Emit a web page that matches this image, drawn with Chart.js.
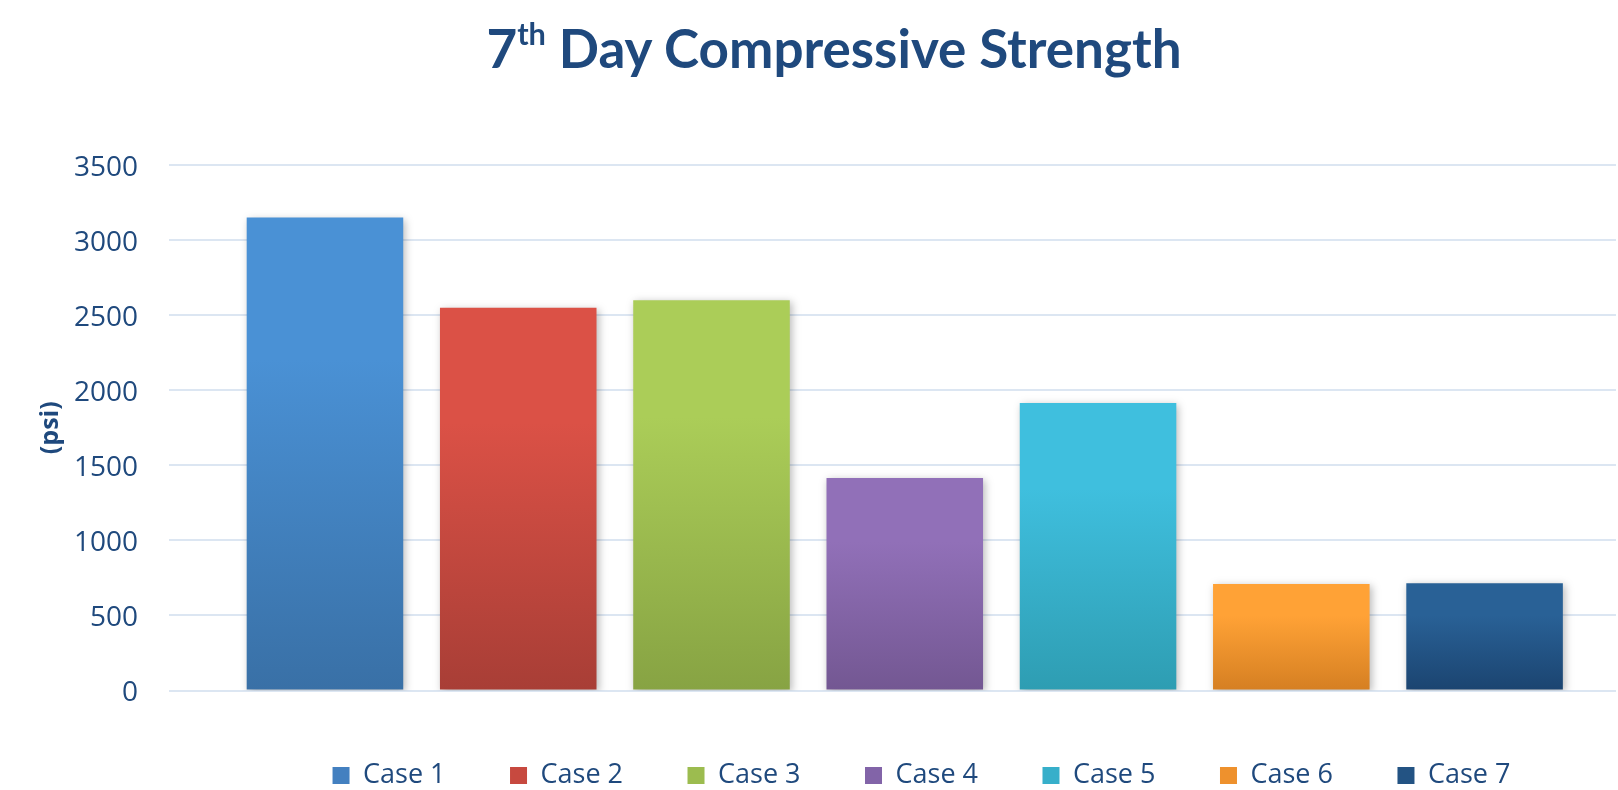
<!DOCTYPE html>
<html>
<head>
<meta charset="utf-8">
<script src="https://cdn.jsdelivr.net/npm/chart.js@4/dist/chart.umd.min.js"></script>
<style>
  html, body { margin: 0; padding: 0; background: #ffffff; }
  #wrap { position: relative; width: 1618px; height: 790px; }
  #chart { position: absolute; left: 0; top: 0; }
  #title {
    position: absolute; left: 834px; top: 18px; transform: translateX(-50%);
    font-family: Lato, "Open Sans", sans-serif; font-weight: 700; font-size: 53px;
    color: #1F497D; white-space: nowrap; line-height: 60px;
  }
  #title sup { font-size: 58%; line-height: 0; position: relative; top: -4px; }
</style>
</head>
<body>
<div id="wrap">
  <canvas id="chart" width="1618" height="790"></canvas>
  <div id="title">7<sup>th</sup> Day Compressive Strength</div>
</div>
<script>
// Categories and measured compressive strength (psi)
const cases = ['Case 1', 'Case 2', 'Case 3', 'Case 4', 'Case 5', 'Case 6', 'Case 7'];
const strength = [3150, 2550, 2600, 1415, 1915, 710, 715];
const yTickValues = [0, 500, 1000, 1500, 2000, 2500, 3000, 3500];

// Per-case gradient colours (top, bottom) and a flat legend swatch colour
const topColors = ['#4A91D5', '#DB5146', '#ABCD58', '#9170B8', '#3FBFDE', '#FFA236', '#296196'];
const bottomColors = ['#3970A6', '#A83E36', '#87A343', '#735792', '#2E9DB2', '#D57F22', '#1B4470'];
const swatchColors = ['#4380C0', '#C7493F', '#9CBC4F', '#8264A8', '#37AFCA', '#EE912D', '#235383'];

const textBlue = '#1F497D';

function barGradient(top, bottom) {
  return (ctx) => {
    const chart = ctx.chart;
    if (!chart.chartArea || ctx.type !== 'data' || !ctx.parsed) return top;
    const y = chart.scales.y;
    const yTop = y.getPixelForValue(ctx.parsed.y);
    const yBase = y.getPixelForValue(0);
    const g = chart.ctx.createLinearGradient(0, yTop, 0, yBase);
    g.addColorStop(0, top);
    g.addColorStop(0.3, top);
    g.addColorStop(1, bottom);
    return g;
  };
}

const datasets = cases.map((name, i) => ({
  label: name,
  data: [{ x: i, y: strength[i] }],
  backgroundColor: barGradient(topColors[i], bottomColors[i]),
  borderWidth: 0,
  grouped: false,
  categoryPercentage: 1,
  barPercentage: 0.81
}));

// Soft drop shadow behind the bars
const barShadow = {
  id: 'barShadow',
  beforeDatasetsDraw(chart) {
    const c = chart.ctx;
    c.save();
    c.shadowColor = 'rgba(0,0,0,0.28)';
    c.shadowBlur = 8;
    c.shadowOffsetX = 2;
    c.shadowOffsetY = 2;
  },
  afterDatasetsDraw(chart) {
    chart.ctx.restore();
  }
};

// Nudge the legend row to sit under the bars
const legendShift = {
  id: 'legendShift',
  afterLayout(chart, args, opts) {
    const lg = chart.legend;
    if (!lg) return;
    lg.left += opts.dx; lg.right += opts.dx;
    lg.top += opts.dy; lg.bottom += opts.dy;
  }
};

new Chart(document.getElementById('chart'), {
  type: 'bar',
  data: { datasets },
  plugins: [barShadow, legendShift],
  options: {
    responsive: false,
    animation: false,
    layout: { padding: { top: 165, left: 32, right: 2, bottom: 0 } },
    scales: {
      x: {
        type: 'linear',
        display: false,
        offset: false,
        min: -0.807,
        max: 6.68,
        afterBuildTicks: (s) => { s.ticks = cases.map((_, i) => ({ value: i })); }
      },
      y: {
        min: 0,
        max: 3500,
        afterBuildTicks: (s) => { s.ticks = yTickValues.map(v => ({ value: v })); },
        afterFit: (s) => { s.width = 137; },
        border: { display: false },
        grid: { color: '#DCE6F2', lineWidth: 2, drawTicks: false },
        ticks: {
          padding: 31,
          labelOffset: 3,
          color: textBlue,
          font: { family: '"Open Sans", sans-serif', size: 28 },
          callback: (v) => String(v)
        },
        title: {
          display: true,
          text: '(psi)',
          color: textBlue,
          padding: { top: 4, bottom: 0 },
          font: { family: '"Open Sans", sans-serif', size: 25, weight: 'bold' }
        }
      }
    },
    plugins: {
      title: { display: false },
      tooltip: { enabled: false },
      legendShift: { dx: 97.5, dy: 7 },
      legend: {
        position: 'bottom',
        maxHeight: 99.5,
        labels: {
          boxWidth: 17,
          boxHeight: 17,
          padding: 64.5,
          color: textBlue,
          font: { family: '"Open Sans", sans-serif', size: 27 },
          generateLabels: (chart) => chart.data.datasets.map((ds, i) => ({
            text: ds.label,
            fillStyle: swatchColors[i],
            strokeStyle: swatchColors[i],
            lineWidth: 0,
            hidden: false,
            datasetIndex: i,
            fontColor: textBlue
          }))
        }
      }
    }
  }
});
</script>
</body>
</html>
